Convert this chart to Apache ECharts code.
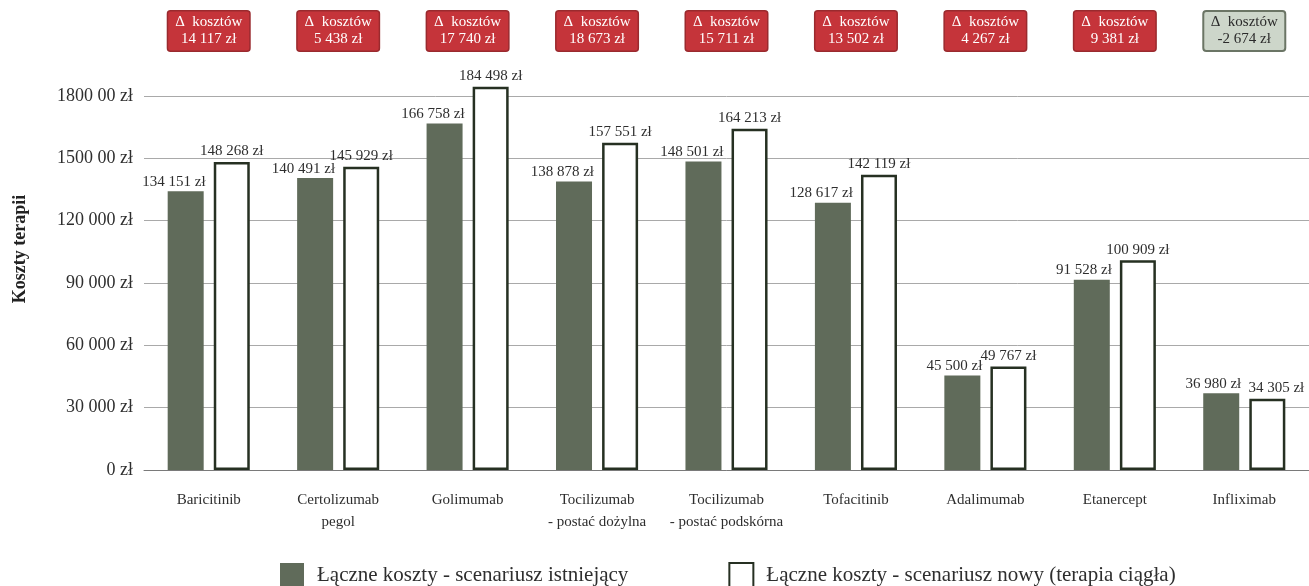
<!DOCTYPE html>
<html>
<head>
<meta charset="utf-8">
<title>Koszty terapii</title>
<script src="https://cdn.jsdelivr.net/npm/echarts@6/dist/echarts.min.js"></script>
<style>
  html, body { margin: 0; padding: 0; background: #ffffff; }
  #chart { width: 1309px; height: 586px; }
</style>
</head>
<body>
<div id="chart"></div>
<script>
// Therapy names shown under each pair of bars
const categories = [
  'Baricitinib',
  'Certolizumab\npegol',
  'Golimumab',
  'Tocilizumab\n- postać dożylna',
  'Tocilizumab\n- postać podskórna',
  'Tofacitinib',
  'Adalimumab',
  'Etanercept',
  'Infliximab'
];

// Total cost, existing scenario (zł)
const existingCosts = [134151, 140491, 166758, 138878, 148501, 128617, 45500, 91528, 36980];

// Total cost, new scenario – continuous therapy (zł)
const newCosts = [148268, 145929, 184498, 157551, 164213, 142119, 49767, 100909, 34305];

// Cost difference printed in the boxes above each therapy (zł)
const costDeltas = [14117, 5438, 17740, 18673, 15711, 13502, 4267, 9381, -2674];

// Value-axis tick labels, one per 30 000 zł step
const yTickLabels = ['0 zł', '30 000 zł', '60 000 zł', '90 000 zł', '120 000 zł', '1500 00 zł', '1800 00 zł'];

const seriesNames = [
  'Łączne koszty - scenariusz istniejący',
  'Łączne koszty - scenariusz nowy (terapia ciągła)'
];

const FONT = 'Liberation Serif';
const GREEN = '#606b5a';
const DARK = '#263022';
const TEXT = '#2e2e2e';

function formatZl(v) {
  const sign = v < 0 ? '-' : '';
  const digits = String(Math.abs(v)).replace(/\B(?=(\d{3})+(?!\d))/g, ' ');
  return sign + digits + ' zł';
}

const chart = echarts.init(document.getElementById('chart'), null, { renderer: 'canvas' });

const gridLeft = 144;
const gridRight = 0;

const option = {
  backgroundColor: '#ffffff',
  animation: false,
  textStyle: { fontFamily: FONT },
  grid: [
    { left: gridLeft, right: gridRight, top: 96, bottom: 116, containLabel: false },
    { left: gridLeft, right: gridRight, top: 10, height: 42, containLabel: false }
  ],
  xAxis: [
    {
      type: 'category',
      gridIndex: 0,
      data: categories,
      axisTick: { show: false },
      axisLine: { show: true, lineStyle: { color: '#7a7a7a', width: 1 } },
      axisLabel: {
        interval: 0,
        margin: 19,
        color: TEXT,
        fontFamily: FONT,
        fontSize: 15,
        lineHeight: 22,
        align: 'center'
      },
      splitLine: { show: false }
    },
    {
      type: 'category',
      gridIndex: 1,
      data: categories,
      show: false
    }
  ],
  yAxis: [
    {
      type: 'value',
      gridIndex: 0,
      min: 0,
      max: 180000,
      interval: 30000,
      axisLine: { show: false },
      axisTick: { show: false },
      axisLabel: {
        margin: 11,
        color: TEXT,
        fontFamily: FONT,
        fontSize: 18,
        formatter: function (v) {
          return yTickLabels[Math.round(v / 30000)] || '';
        }
      },
      splitLine: { show: true, lineStyle: { color: '#a9a9a9', width: 1 } }
    },
    {
      type: 'value',
      gridIndex: 1,
      min: 0,
      max: 1,
      show: false
    }
  ],
  legend: {
    left: 280,
    top: 562,
    padding: 0,
    icon: 'rect',
    itemWidth: 24,
    itemHeight: 24,
    itemGap: 100,
    textStyle: { color: TEXT, fontFamily: FONT, fontSize: 21, padding: [2, 0, 0, 8] },
    data: [
      { name: seriesNames[0], itemStyle: { color: GREEN, borderWidth: 0 } },
      { name: seriesNames[1], itemStyle: { color: '#ffffff', borderColor: DARK, borderWidth: 2 } }
    ]
  },
  graphic: [
    {
      type: 'text',
      x: 20,
      y: 249,
      rotation: Math.PI / 2,
      style: {
        text: 'Koszty terapii',
        fontFamily: FONT,
        fontSize: 18,
        fontWeight: 'bold',
        fill: '#222222',
        align: 'center',
        verticalAlign: 'middle'
      }
    }
  ],
  series: [
    {
      name: seriesNames[0],
      type: 'bar',
      xAxisIndex: 0,
      yAxisIndex: 0,
      data: existingCosts,
      barWidth: 36,
      barGap: '28%',
      itemStyle: { color: GREEN },
      label: {
        show: true,
        position: ['100%', 0],
        offset: [2, -2],
        align: 'right',
        verticalAlign: 'bottom',
        color: TEXT,
        fontFamily: FONT,
        fontSize: 15,
        formatter: function (p) { return formatZl(p.value); }
      }
    },
    {
      name: seriesNames[1],
      type: 'bar',
      xAxisIndex: 0,
      yAxisIndex: 0,
      data: newCosts,
      barWidth: 36,
      barGap: '28%',
      clip: false,
      itemStyle: { color: '#ffffff', borderColor: DARK, borderWidth: 2.5 },
      label: {
        show: true,
        position: 'top',
        distance: 3,
        color: TEXT,
        fontFamily: FONT,
        fontSize: 15,
        formatter: function (p) { return formatZl(p.value); }
      },
      // when the new cost is lower, its label sits next to the taller bar's label, so nudge it right
      labelLayout: function (p) {
        const i = p.dataIndex;
        return newCosts[i] < existingCosts[i] ? { dx: 9 } : {};
      }
    },
    {
      // Boxes with the cost difference between both scenarios
      name: 'delta',
      type: 'bar',
      xAxisIndex: 1,
      yAxisIndex: 1,
      barWidth: 84,
      silent: true,
      legendHoverLink: false,
      data: costDeltas.map(function (d) {
        const negative = d < 0;
        return {
          value: 1,
          itemStyle: negative
            ? { color: '#cdd6ca', borderColor: '#6b7565', borderWidth: 2, borderRadius: 3 }
            : { color: '#c5343a', borderColor: '#9a2a2e', borderWidth: 1.5, borderRadius: 3 },
          label: { color: negative ? '#2a2a2a' : '#ffffff' }
        };
      }),
      label: {
        show: true,
        position: 'inside',
        fontFamily: FONT,
        fontSize: 15,
        lineHeight: 17,
        align: 'center',
        verticalAlign: 'middle',
        formatter: function (p) {
          return 'Δ  kosztów\n' + formatZl(costDeltas[p.dataIndex]);
        }
      }
    }
  ]
};

chart.setOption(option);
</script>
</body>
</html>
